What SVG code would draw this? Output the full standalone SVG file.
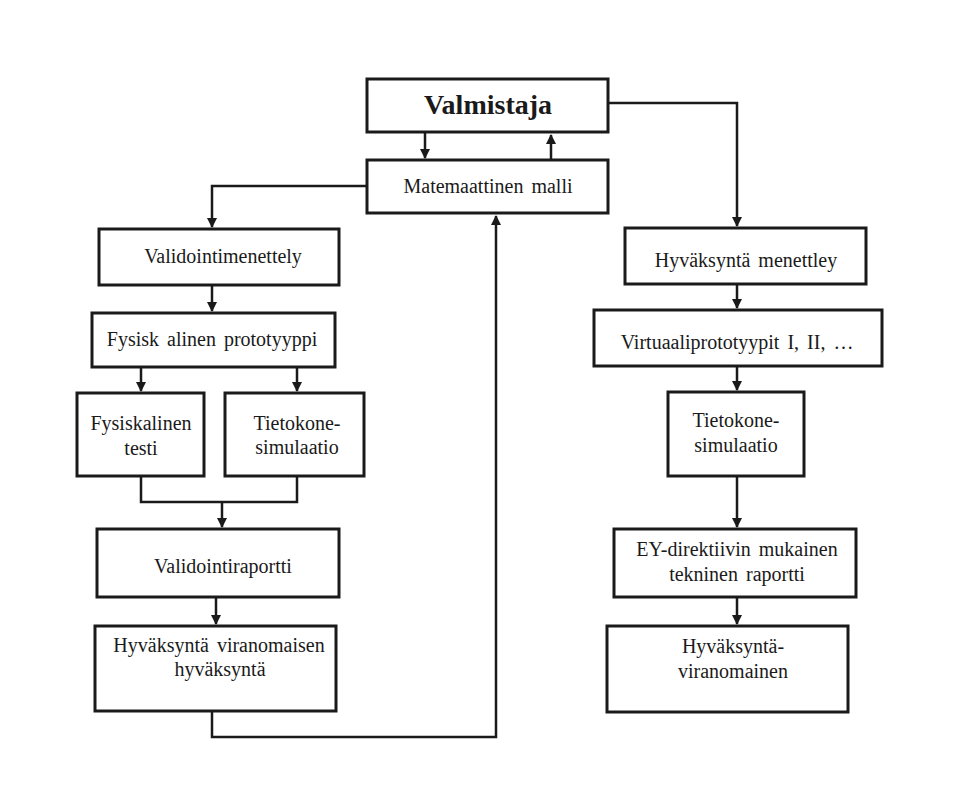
<svg xmlns="http://www.w3.org/2000/svg" width="955" height="799" viewBox="0 0 955 799">
<style>
.box{fill:#fff;stroke:#1a1a1a;stroke-width:3}
.t{font-family:"Liberation Serif","DejaVu Serif",serif;font-size:20px;word-spacing:3px;fill:#1a1a1a;text-anchor:middle}
.b{font-size:28px;font-weight:bold;word-spacing:0}
.c{fill:none;stroke:#1a1a1a;stroke-width:2.5}
</style>
<defs>
<marker id="ah" viewBox="0 0 10 10" refX="9" refY="5" markerWidth="4" markerHeight="4" orient="auto" markerUnits="strokeWidth">
<path d="M0,0 L10,5 L0,10 z" fill="#1a1a1a"/>
</marker>
</defs>
<rect width="955" height="799" fill="#fff"/>
<g id="connectors">
<path class="c" d="M425,133 V158" marker-end="url(#ah)"/>
<path class="c" d="M551,160 V135" marker-end="url(#ah)"/>
<path class="c" d="M608,103 H737 V226" marker-end="url(#ah)"/>
<path class="c" d="M367,186 H212 V227" marker-end="url(#ah)"/>
<path class="c" d="M212,285 V311" marker-end="url(#ah)"/>
<path class="c" d="M141,367 V391" marker-end="url(#ah)"/>
<path class="c" d="M297,367 V391" marker-end="url(#ah)"/>
<path class="c" d="M141,476 V502 H297 V476"/>
<path class="c" d="M222,502 V527" marker-end="url(#ah)"/>
<path class="c" d="M216,597 V624" marker-end="url(#ah)"/>
<path class="c" d="M212,711 V737 H496 V216" marker-end="url(#ah)"/>
<path class="c" d="M737,284 V308" marker-end="url(#ah)"/>
<path class="c" d="M737,366 V390" marker-end="url(#ah)"/>
<path class="c" d="M737,476 V527" marker-end="url(#ah)"/>
<path class="c" d="M737,597 V624" marker-end="url(#ah)"/>
</g>
<g id="valmistaja"><rect class="box" x="367" y="79" width="241" height="53"/><text class="t b" x="488" y="114">Valmistaja</text></g>
<g id="matemaattinen"><rect class="box" x="367" y="160" width="241" height="53"/><text class="t" x="488" y="193">Matemaattinen malli</text></g>
<g id="validointimenettely"><rect class="box" x="99" y="229" width="240" height="56"/><text class="t" x="223" y="263">Validointimenettely</text></g>
<g id="fysisk-prototyyppi"><rect class="box" x="92" y="313" width="243" height="54"/><text class="t" x="212" y="346">Fysisk alinen prototyyppi</text></g>
<g id="fysiskalinen-testi"><rect class="box" x="77" y="393" width="127" height="83"/><text class="t" x="141" y="430">Fysiskalinen</text><text class="t" x="141" y="455">testi</text></g>
<g id="tietokone-vasen"><rect class="box" x="225" y="393" width="139" height="83"/><text class="t" x="297" y="430">Tietokone-</text><text class="t" x="297" y="454">simulaatio</text></g>
<g id="validointiraportti"><rect class="box" x="97" y="529" width="242" height="68"/><text class="t" x="223" y="573">Validointiraportti</text></g>
<g id="viranomaisen-hyvaksynta"><rect class="box" x="95" y="626" width="241" height="85"/><text class="t" x="219" y="652">Hyväksyntä viranomaisen</text><text class="t" x="220" y="676">hyväksyntä</text></g>
<g id="hyvaksynta-menettley"><rect class="box" x="625" y="228" width="241" height="56"/><text class="t" x="746" y="267">Hyväksyntä menettley</text></g>
<g id="virtuaaliprototyypit"><rect class="box" x="594" y="310" width="288" height="56"/><text class="t" x="737" y="349">Virtuaaliprototyypit I, II, …</text></g>
<g id="tietokone-oikea"><rect class="box" x="668" y="392" width="136" height="84"/><text class="t" x="736" y="427">Tietokone-</text><text class="t" x="736" y="452">simulaatio</text></g>
<g id="ey-direktiivi"><rect class="box" x="614" y="529" width="242" height="68"/><text class="t" x="737" y="556">EY-direktiivin mukainen</text><text class="t" x="737" y="581">tekninen raportti</text></g>
<g id="hyvaksynta-viranomainen"><rect class="box" x="607" y="626" width="241" height="86"/><text class="t" x="733" y="653">Hyväksyntä-</text><text class="t" x="733" y="678">viranomainen</text></g>
</svg>
